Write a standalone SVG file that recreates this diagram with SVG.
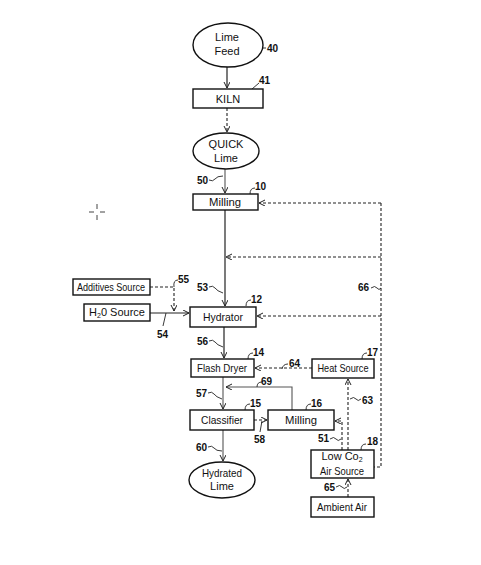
<svg xmlns="http://www.w3.org/2000/svg" width="481" height="565" viewBox="0 0 481 565">
<defs>
<marker id="ah" markerWidth="8" markerHeight="8" refX="6" refY="3" orient="auto" markerUnits="userSpaceOnUse">
<path d="M0,0 L6,3 L0,6" fill="none" stroke="#222" stroke-width="1"/>
</marker>
<style>
.box{fill:#fff;stroke:#111;stroke-width:1.4}
.t{font-family:"Liberation Sans",Arial,sans-serif;font-size:11px;fill:#111;text-anchor:middle}
.n{font-family:"Liberation Sans",Arial,sans-serif;font-size:10px;fill:#111;font-weight:bold}
.s{fill:none;stroke:#222;stroke-width:1.2}
.g{fill:none;stroke:#555;stroke-width:1.1}
.d{fill:none;stroke:#222;stroke-width:1.1;stroke-dasharray:3,2}
.l{fill:none;stroke:#222;stroke-width:0.9}
</style>
</defs>
<rect width="481" height="565" fill="#fff"/>
<g id="crosshair" stroke="#444" stroke-width="1">
<path d="M97,204 V209 M97,215 V220 M89,212 H94 M100,212 H105"/>
</g>
<g id="connectors">
<path class="s" d="M227,67 V88" marker-end="url(#ah)"/>
<path class="d" d="M227,108 V132" stroke-dasharray="1.5,1.5" marker-end="url(#ah)"/>
<path class="g" d="M225,169 V193" marker-end="url(#ah)"/>
<path class="s" d="M225,210 V306" marker-end="url(#ah)"/>
<path class="d" d="M381,203 H259" marker-end="url(#ah)"/>
<path class="d" d="M381,257 H226" marker-end="url(#ah)"/>
<path class="d" d="M381,316 H257" marker-end="url(#ah)"/>
<path class="d" d="M381,203 V467 H374"/>
<path class="s" d="M150,313 H189" stroke-width="1.6" marker-end="url(#ah)"/>
<path class="d" d="M150,287 H174 V311" marker-end="url(#ah)"/>
<path class="s" d="M224,327 V358" marker-end="url(#ah)"/>
<path class="d" d="M312,368 H255" marker-end="url(#ah)"/>
<path class="g" d="M223,377 V409" marker-end="url(#ah)"/>
<path class="g" d="M292,410 V387 H226" marker-end="url(#ah)"/>
<path class="d" d="M254,420 H267" marker-end="url(#ah)"/>
<path class="d" d="M342,450 V421 H335" marker-end="url(#ah)"/>
<path class="d" d="M348,450 V379" marker-end="url(#ah)"/>
<path class="d" d="M348,497 V479" marker-end="url(#ah)"/>
<path class="g" d="M223,430 V461" marker-end="url(#ah)"/>
</g>
<g id="leaders">
<path class="l" d="M259,40 V48 H266"/>
<path class="l" d="M252,89 L259,83"/>
<path class="l" d="M209,180 q4,2 6,-1 t8,-3"/>
<path class="l" d="M250,194 q0,-6 5,-6"/>
<path class="l" d="M371,288 q4,-3 6,0 t4,0"/>
<path class="l" d="M246,306 q0,-6 5,-6"/>
<path class="l" d="M209,287 q4,-2 6,1 t8,5"/>
<path class="l" d="M166,313 L163,326"/>
<path class="l" d="M174,287 q-1,-7 4,-7"/>
<path class="l" d="M209,341 q4,-2 6,1 t8,5"/>
<path class="l" d="M248,359 q0,-6 5,-6"/>
<path class="l" d="M282,369 q1,-5 6,-5"/>
<path class="l" d="M362,359 q0,-6 5,-6"/>
<path class="l" d="M257,387 q0,-5 5,-5"/>
<path class="l" d="M208,393 q4,-2 6,1 t8,5"/>
<path class="l" d="M245,410 q0,-6 5,-6"/>
<path class="l" d="M306,410 q0,-6 5,-6"/>
<path class="l" d="M262,421 L260,432"/>
<path class="l" d="M330,439 q4,-3 6,0 t5,0"/>
<path class="l" d="M350,399 q4,-3 6,0 t5,0"/>
<path class="l" d="M361,450 q0,-6 5,-6"/>
<path class="l" d="M336,487 q4,-3 6,0 t5,0"/>
<path class="l" d="M208,447 q4,-2 6,1 t8,3"/>
</g>
<g id="lime-feed">
<ellipse cx="228" cy="45" rx="35" ry="22" class="box"/>
<text class="t" x="227" y="41">Lime</text>
<text class="t" x="227" y="55">Feed</text>
<text class="n" x="267" y="52">40</text>
</g>
<g id="kiln">
<rect x="193" y="89" width="70" height="19" class="box"/>
<text class="t" x="228" y="103" font-size="12">KILN</text>
<text class="n" x="259" y="84">41</text>
</g>
<g id="quick-lime">
<ellipse cx="226" cy="151" rx="33" ry="18" class="box"/>
<text class="t" x="226" y="148" font-size="10">QUICK</text>
<text class="t" x="226" y="162">Lime</text>
<text class="n" x="197" y="184">50</text>
</g>
<g id="milling-10">
<rect x="193" y="194" width="65" height="16" class="box"/>
<text class="t" x="225" y="206" textLength="32" lengthAdjust="spacingAndGlyphs">Milling</text>
<text class="n" x="255" y="190">10</text>
</g>
<g id="additives-source">
<rect x="73" y="279" width="77" height="16" class="box"/>
<text class="t" x="111" y="291" font-size="10.5" textLength="68" lengthAdjust="spacingAndGlyphs">Additives Source</text>
<text class="n" x="178" y="283">55</text>
</g>
<g id="h2o-source">
<rect x="84" y="304" width="66" height="17" class="box"/>
<text class="t" x="117" y="316" font-size="10.5">H<tspan font-size="7" dy="2">2</tspan><tspan dy="-2">0 Source</tspan></text>
<text class="n" x="157" y="338">54</text>
</g>
<g id="hydrator">
<rect x="190" y="307" width="66" height="20" class="box"/>
<text class="t" x="223" y="321" textLength="40" lengthAdjust="spacingAndGlyphs">Hydrator</text>
<text class="n" x="251" y="303">12</text>
<text class="n" x="197" y="291">53</text>
<text class="n" x="197" y="345">56</text>
</g>
<g id="recycle-66">
<text class="n" x="358" y="291">66</text>
</g>
<g id="flash-dryer">
<rect x="191" y="359" width="63" height="18" class="box"/>
<text class="t" x="222" y="372" textLength="50" lengthAdjust="spacingAndGlyphs">Flash Dryer</text>
<text class="n" x="253" y="356">14</text>
<text class="n" x="196" y="397">57</text>
<text class="n" x="261" y="385">69</text>
</g>
<g id="heat-source">
<rect x="312" y="359" width="62" height="19" class="box"/>
<text class="t" x="343" y="372" textLength="51" lengthAdjust="spacingAndGlyphs">Heat Source</text>
<text class="n" x="367" y="356">17</text>
<text class="n" x="289" y="367">64</text>
</g>
<g id="classifier">
<rect x="190" y="410" width="64" height="20" class="box"/>
<text class="t" x="222" y="424" textLength="42" lengthAdjust="spacingAndGlyphs">Classifier</text>
<text class="n" x="250" y="407">15</text>
<text class="n" x="254" y="443">58</text>
<text class="n" x="196" y="451">60</text>
</g>
<g id="milling-16">
<rect x="268" y="410" width="66" height="20" class="box"/>
<text class="t" x="301" y="424" textLength="32" lengthAdjust="spacingAndGlyphs">Milling</text>
<text class="n" x="311" y="407">16</text>
<text class="n" x="318" y="442">51</text>
<text class="n" x="362" y="404">63</text>
</g>
<g id="low-co2-air-source">
<rect x="311" y="450" width="63" height="28" class="box"/>
<text class="t" x="342" y="460" font-size="10.5">Low Co<tspan font-size="7" dy="1.5">2</tspan></text>
<text class="t" x="342" y="475" font-size="10.5" textLength="44" lengthAdjust="spacingAndGlyphs">Air Source</text>
<text class="n" x="367" y="445">18</text>
</g>
<g id="ambient-air">
<rect x="311" y="497" width="63" height="20" class="box"/>
<text class="t" x="342" y="511" textLength="50" lengthAdjust="spacingAndGlyphs">Ambient Air</text>
<text class="n" x="324" y="491">65</text>
</g>
<g id="hydrated-lime">
<ellipse cx="222" cy="480" rx="33" ry="18" class="box"/>
<text class="t" x="222" y="477" textLength="40" lengthAdjust="spacingAndGlyphs">Hydrated</text>
<text class="t" x="222" y="490">Lime</text>
</g>
</svg>
